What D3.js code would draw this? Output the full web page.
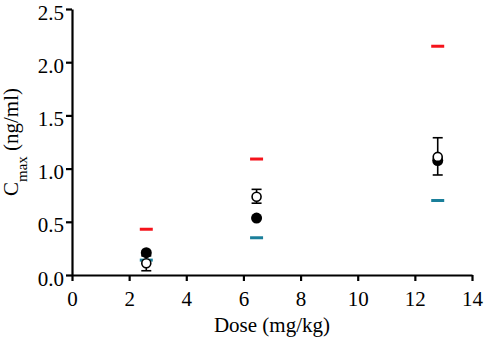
<!DOCTYPE html>
<html>
<head>
<meta charset="utf-8">
<script src="https://cdn.jsdelivr.net/npm/d3@7"></script>
<style>
  body { margin: 0; background: #fff; }
  svg { display: block; font-family: "Liberation Serif", "Times New Roman", serif; }
</style>
</head>
<body>
<script>
// doses (mg/kg)
const doses = [2.6, 6.46, 12.8];
// observed, filled circles
const observed = [0.21, 0.535, 1.075];
// predicted, open circles with error bars
const predicted = [0.11, 0.735, 1.11];
const predLow = [0.04, 0.675, 0.94];
const predHigh = [0.18, 0.805, 1.29];
// upper (red) and lower (teal) bounds
const upper = [0.43, 1.09, 2.15];
const lower = [0.14, 0.35, 0.70];

const xTicks = [0, 2, 4, 6, 8, 10, 12, 14];
const yTicks = [0, 0.5, 1.0, 1.5, 2.0, 2.5];

const W = 484, H = 341;
const margin = { top: 9, right: 12, bottom: 66, left: 72 };
const serif = "'Liberation Serif', 'Times New Roman', serif";

const svg = d3.select("body").append("svg")
	.attr("width", W)
	.attr("height", H);

const x = d3.scaleLinear().domain([0, 14]).range([margin.left, W - margin.right]);
const y = d3.scaleLinear().domain([0, 2.5]).range([H - margin.bottom, margin.top]);

// axes
const xAxis = svg.append("g")
	.attr("transform", `translate(0,${y(0)})`)
	.call(d3.axisBottom(x).tickValues(xTicks).tickFormat(d3.format("d")).tickSize(6).tickSizeOuter(0));
const yAxis = svg.append("g")
	.attr("transform", `translate(${x(0)},0)`)
	.call(d3.axisLeft(y).tickValues(yTicks).tickFormat(d3.format(".1f")).tickSize(6).tickSizeOuter(0));

[xAxis, yAxis].forEach(g => {
	g.attr("font-family", null).attr("font-size", null);
	g.select(".domain").attr("stroke", "#000").attr("stroke-width", 2.2);
	g.selectAll(".tick line").attr("stroke", "#000").attr("stroke-width", 2.2);
	g.selectAll(".tick text")
		.attr("fill", "#000")
		.style("font-family", serif)
		.style("font-size", "21px");
});
xAxis.selectAll(".tick text").attr("y", 8).attr("dy", "1.08em");
yAxis.selectAll(".tick text").attr("x", -8).attr("dy", "0.48em");

// axis titles
svg.append("text")
	.attr("x", (x(0) + x(14)) / 2)
	.attr("y", 332)
	.attr("text-anchor", "middle")
	.style("font-family", serif)
	.style("font-size", "21px")
	.text("Dose (mg/kg)");

const yTitle = svg.append("text")
	.attr("transform", `translate(18,${(y(0) + y(2.5)) / 2}) rotate(-90)`)
	.attr("text-anchor", "middle")
	.style("font-family", serif)
	.style("font-size", "21px");
yTitle.append("tspan").text("C");
yTitle.append("tspan").attr("dy", 9).style("font-size", "15px").text("max");
yTitle.append("tspan").attr("dy", -9).text(" (ng/ml)");

const plot = svg.append("g");

// bound dashes
const dashHalf = 6.5;
plot.selectAll("line.upper")
	.data(doses)
	.join("line")
	.attr("class", "upper")
	.attr("x1", d => x(d) - dashHalf)
	.attr("x2", d => x(d) + dashHalf)
	.attr("y1", (d, i) => y(upper[i]))
	.attr("y2", (d, i) => y(upper[i]))
	.attr("stroke", "#f5131b")
	.attr("stroke-width", 3);

plot.selectAll("line.lower")
	.data(doses)
	.join("line")
	.attr("class", "lower")
	.attr("x1", d => x(d) - dashHalf)
	.attr("x2", d => x(d) + dashHalf)
	.attr("y1", (d, i) => y(lower[i]))
	.attr("y2", (d, i) => y(lower[i]))
	.attr("stroke", "#1a7f9a")
	.attr("stroke-width", 3);

// error bars for open circles
const errs = plot.selectAll("g.err")
	.data(doses)
	.join("g")
	.attr("class", "err");
errs.append("line")
	.attr("x1", d => x(d)).attr("x2", d => x(d))
	.attr("y1", (d, i) => y(predLow[i]))
	.attr("y2", (d, i) => y(predHigh[i]))
	.attr("stroke", "#000").attr("stroke-width", 1.6);
errs.append("line")
	.attr("x1", d => x(d) - 5).attr("x2", d => x(d) + 5)
	.attr("y1", (d, i) => y(predLow[i]))
	.attr("y2", (d, i) => y(predLow[i]))
	.attr("stroke", "#000").attr("stroke-width", 1.6);
errs.append("line")
	.attr("x1", d => x(d) - 5).attr("x2", d => x(d) + 5)
	.attr("y1", (d, i) => y(predHigh[i]))
	.attr("y2", (d, i) => y(predHigh[i]))
	.attr("stroke", "#000").attr("stroke-width", 1.6);

// filled circles (observed)
plot.selectAll("circle.obs")
	.data(doses)
	.join("circle")
	.attr("class", "obs")
	.attr("cx", d => x(d))
	.attr("cy", (d, i) => y(observed[i]))
	.attr("r", 5.5)
	.attr("fill", "#000");

// open circles (predicted)
plot.selectAll("circle.pred")
	.data(doses)
	.join("circle")
	.attr("class", "pred")
	.attr("cx", d => x(d))
	.attr("cy", (d, i) => y(predicted[i]))
	.attr("r", 4.5)
	.attr("fill", "#fff")
	.attr("stroke", "#000")
	.attr("stroke-width", 1.6);
</script>
</body>
</html>
